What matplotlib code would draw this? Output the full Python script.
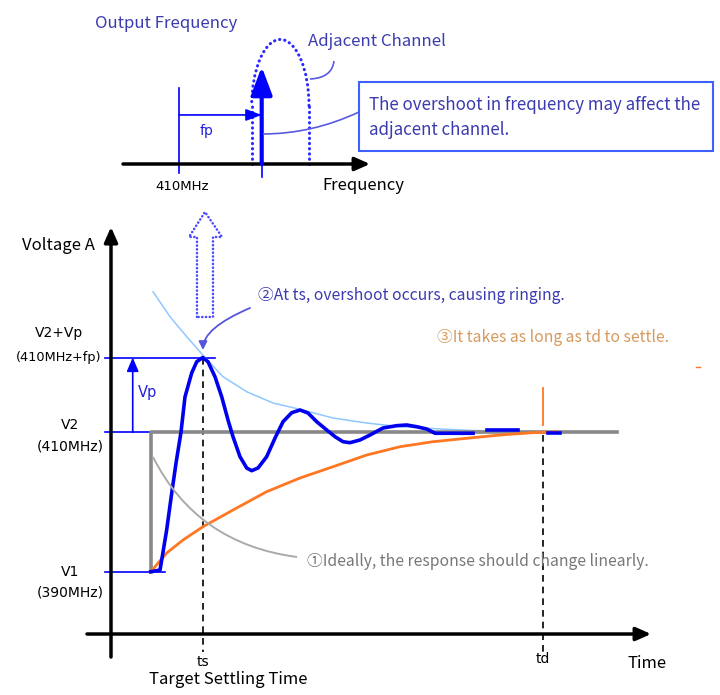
import numpy as np
import matplotlib
matplotlib.use('Agg')
import matplotlib.pyplot as plt
from matplotlib.patches import Arc, Polygon, Rectangle, FancyArrowPatch, PathPatch
from matplotlib.path import Path

plt.rcParams['font.family'] = ['Noto Sans CJK JP', 'DejaVu Sans']

# --- time response data (t: units of ts, level: MHz) ---
t_step = 0.432
ts = 1.0
td = 4.696
V1 = 390.0
V2 = 410.0
Vp = 10.73

ring_t = [0.432, 0.533, 0.605, 0.660, 0.707, 0.761, 0.804, 0.877, 0.932, 0.997,
          1.054, 1.130, 1.203, 1.272, 1.326, 1.402, 1.475, 1.529, 1.598, 1.692,
          1.783, 1.870, 1.964, 2.054, 2.141, 2.236, 2.345, 2.435, 2.522, 2.598,
          2.707, 2.815, 2.957, 3.105, 3.214, 3.323, 3.432, 3.522, 3.935, np.nan,
          4.087, 4.424, np.nan, 4.750, 4.880]
ring_f = [390.00, 390.24, 395.98, 401.29, 405.60, 410.04, 415.06, 418.51, 420.13, 420.73,
          420.13, 417.98, 415.11, 411.76, 409.37, 406.50, 404.88, 404.49, 404.88, 406.50,
          409.18, 411.52, 412.81, 413.20, 412.77, 411.52, 410.33, 409.37, 408.65, 408.51,
          408.90, 409.61, 410.62, 410.95, 411.05, 410.80, 410.47, 409.86, 409.86, np.nan,
          410.33, 410.33, np.nan, 409.90, 409.90]

env_t = [0.457, 0.641, 0.823, 0.997, 1.217, 1.475, 1.761, 2.054, 2.413, 2.779,
         3.141, 3.649, 3.935, 4.880]
env_f = [430.17, 426.59, 423.72, 421.09, 417.98, 415.82, 414.20, 413.30, 412.05, 411.33,
         410.80, 410.43, 410.26, 410.04]

settle_t = [0.432, 0.605, 0.783, 1.000, 1.326, 1.692, 2.054, 2.413, 2.779, 3.141,
            3.500, 3.866, 4.228, 4.587, 4.696, 4.848]
settle_f = [390.00, 392.68, 394.55, 396.46, 398.85, 401.48, 403.44, 405.06, 406.74, 407.93,
            408.65, 409.14, 409.61, 409.95, 410.00, 410.05]

ideal_t = [t_step, t_step, 5.497]
ideal_f = [V1, V2, V2]

# --- spectrum data (offset in units of fp, relative amplitude) ---
fp = 1.0
out_amp = 1.0
adj_lo, adj_hi, adj_top, adj_side = 0.879, 1.572, 1.28, 0.6

BLUE = '#0000ee'
TXTBLUE = '#3b3bb0'

fig = plt.figure(figsize=(7.2, 6.95), dpi=100)

# main axes: time vs level
ax = fig.add_axes([0, 0, 1, 1])
ax.set_xlim(-111 / 92, 609 / 92)
ax.set_ylim(V1 - (695 - 571.7) / 6.97, V1 + 571.7 / 6.97)
ax.axis('off')

# spectrum axes
ax2 = fig.add_axes([0, 0, 1, 1])
ax2.set_xlim(-179 / 82.7, 541 / 82.7)
ax2.set_ylim((164 - 695) / 97.3, 164 / 97.3)
ax2.axis('off')

# overlay in pixel units for text/callouts
ov = fig.add_axes([0, 0, 1, 1])
ov.set_xlim(0, 720)
ov.set_ylim(695, 0)
ov.axis('off')

# ---------- main chart ----------
arr = dict(arrowstyle='-|>,head_length=0.45,head_width=0.2', mutation_scale=20,
           lw=2.5, color='black', shrinkA=0, shrinkB=0)
ax.annotate('', xy=(0, 439.45), xytext=(0, 377.76), arrowprops=arr)
ax.annotate('', xy=(5.87, 381.06), xytext=(-0.261, 381.06), arrowprops=arr)

ax.plot([ts, ts], [V2 + Vp, 378.5], color='black', lw=1.2, dashes=(4, 3))
ax.plot([td, td], [V2 - 0.4, 378.5], color='black', lw=1.2, dashes=(4, 3))

ax.plot([-0.065, 0.587], [V1, V1], color='#0000ff', lw=1.2)
ax.plot([-0.065, t_step], [V2, V2], color='#0000ff', lw=1.2)
ax.plot([-0.065, 1.13], [V2 + Vp, V2 + Vp], color='#0000ff', lw=1.2)
ax.annotate('', xy=(0.236, V2 + Vp), xytext=(0.236, V2),
            arrowprops=dict(arrowstyle='-|>,head_length=0.7,head_width=0.3', mutation_scale=12,
                            lw=1.2, color='#0000ff', shrinkA=0, shrinkB=0))

ax.plot(env_t, env_f, color='#8ec8ff', lw=1.1)
ax.plot(ideal_t, ideal_f, color='#888888', lw=2.6)
ax.plot(settle_t, settle_f, color='#ff7722', lw=2.0)
ax.plot(ring_t, ring_f, color=BLUE, lw=2.6)
ax.plot([td, td], [416.36, 411.05], color='#ff7722', lw=1.3)

# ---------- spectrum ----------
ax2.annotate('', xy=(2.31, 0), xytext=(-0.677, 0),
             arrowprops=dict(arrowstyle='-|>,head_length=0.45,head_width=0.2', mutation_scale=20,
                             lw=2.5, color='black', shrinkA=0, shrinkB=0))
ax2.plot([0, 0], [-0.092, 0.78], color='#0000ff', lw=1.2)
ax2.annotate('', xy=(fp, 0.504), xytext=(0, 0.504),
             arrowprops=dict(arrowstyle='-|>,head_length=0.8,head_width=0.3', mutation_scale=12,
                             lw=1.2, color='#0000ff', shrinkA=0, shrinkB=0))
ax2.plot([fp, fp], [-0.134, 0], color='#0000ff', lw=1.2)
ax2.annotate('', xy=(fp, out_amp), xytext=(fp, 0),
             arrowprops=dict(arrowstyle='-|>,head_length=0.85,head_width=0.32', mutation_scale=20,
                             lw=3, color='#0000ff', shrinkA=0, shrinkB=0))
dot = dict(color='#2a2aff', lw=2.2, linestyle=(0, (0.1, 1.6)), dash_capstyle='round')
ax2.plot([adj_lo, adj_lo], [0, adj_side], **dot)
ax2.plot([adj_hi, adj_hi], [0, adj_side], **dot)
ax2.add_patch(Arc(((adj_lo + adj_hi) / 2, adj_side), adj_hi - adj_lo, 2 * (adj_top - adj_side),
                  theta1=0, theta2=180, color='#2a2aff', lw=2.2,
                  linestyle=(0, (0.1, 1.6)), capstyle='round'))

# ---------- overlay: callouts ----------
ov.add_patch(Polygon([(197, 317), (197, 237), (189, 237), (205, 212), (222, 237),
                      (213, 237), (213, 317)], closed=True, fill=False,
                     ec='#4a4aff', lw=1.8, linestyle=(0, (0.1, 1.4)), capstyle='round'))
ov.add_patch(Rectangle((359, 82), 354, 69, fc='white', ec='#3f5fff', lw=1.5))

C3 = [Path.MOVETO, Path.CURVE3, Path.CURVE3]
ov.add_patch(PathPatch(Path([(310, 79), (332, 78), (334, 61)], C3), fc='none', ec='#5a5ae0', lw=1.2))
ov.add_patch(PathPatch(Path([(359, 112), (312, 134), (263, 134)], C3), fc='none', ec='#5a5ae0', lw=1.2))
ov.add_patch(PathPatch(Path([(297, 557), (197, 544), (153, 457)], C3), fc='none', ec='#aaaaaa', lw=1.4))
ov.add_patch(FancyArrowPatch(path=Path([(250, 308), (203, 328), (203, 350)], C3),
                             arrowstyle='-|>,head_length=0.5,head_width=0.25', mutation_scale=10,
                             color='#5555dd', lw=1.3))
ov.plot([696, 700], [367, 367], color='#ff7722', lw=1)

def txt(s, x, y, ha='left', color='black', size=12, family=None):
    kw = {}
    if family:
        kw['family'] = family
    ov.text(x, y, s, ha=ha, va='center', color=color, fontsize=size, **kw)

PIX = ['DejaVu Sans']
txt('Output Frequency', 95, 23, color=TXTBLUE, size=12.1)
txt('Adjacent Channel', 308, 42, color=TXTBLUE, size=12.1)
txt('The overshoot in frequency may affect the', 369, 105, color=TXTBLUE, size=12.2)
txt('adjacent channel.', 369, 130, color=TXTBLUE, size=12.2)
txt('410MHz', 182, 186, ha='center', size=9.5, family=PIX)
txt('Frequency', 322, 186)
txt('fp', 207, 131, ha='center', color='#2020e0', size=10, family=PIX)

txt('Voltage A', 22, 245)
txt('V2+Vp', 59, 333, ha='center', size=10, family=PIX)
txt('(410MHz+fp)', 59, 357, ha='center', size=9.3, family=PIX)
txt('V2', 70, 425, ha='center', size=10, family=PIX)
txt('(410MHz)', 70, 447, ha='center', size=10, family=PIX)
txt('V1', 70, 572, ha='center', size=10, family=PIX)
txt('(390MHz)', 70, 593, ha='center', size=10, family=PIX)
txt('Vp', 148, 393, ha='center', color='#2020e0', size=10.5, family=PIX)
txt('ts', 203, 662, ha='center', size=10, family=PIX)
txt('td', 543, 659, ha='center', size=10, family=PIX)
txt('Time', 628, 663)
txt('Target Settling Time', 228, 680, ha='center')

txt('②At ts, overshoot occurs, causing ringing.', 258, 295, color=TXTBLUE, size=11.3)
txt('③It takes as long as td to settle.', 437, 338, color='#d49a5e', size=11.3)
txt('①Ideally, the response should change linearly.', 307, 561, color='#777777', size=11.3)

fig.savefig('out.png', dpi=100)
